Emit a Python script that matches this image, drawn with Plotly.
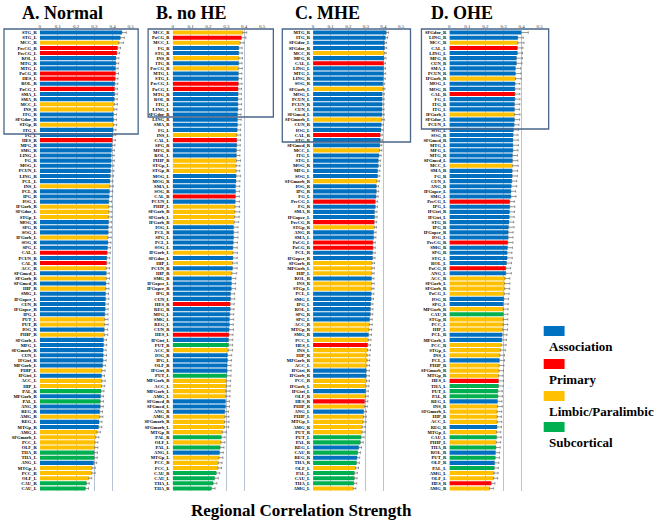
import plotly.graph_objects as go

W, H = 662, 522
SERIF = "Liberation Serif"
COLORS = {"A": "#0070C0", "P": "#FF0000", "L": "#FFC000", "S": "#00B050"}

# ---------------- Panel A. Normal ----------------
a_labels = ["STG_R", "STG_L", "MCC_R", "PreCG_R", "PreCG_L", "ROL_L", "MTG_R", "MTG_L", "PoCG_R", "HES_L",
            "ROL_R", "PoCG_L", "SMA_L", "SMA_R", "MCC_L", "INS_R", "ITG_R", "SFGdor_R", "STGp_R", "ITG_L",
            "FG_L", "HES_R", "MFG_R", "SMG_R", "LING_L", "FG_R", "MOG_L", "PCUN_L", "LING_R", "PCL_L",
            "INS_L", "PCL_R", "IPG_R", "IOG_L", "IFGorb_R", "SFGdor_L", "STGp_L", "MOG_R", "SPG_R", "SOG_L",
            "IFGorb_L", "SOG_R", "SPG_L", "CAL_L", "PCUN_R", "CAL_R", "ACC_R", "SFGmed_L", "SFGorb_R", "SFGmed_R",
            "HIP_R", "SMG_L", "IFGoper_L", "CUN_R", "IFGoper_R", "IPG_L", "PUT_L", "PUT_R", "IOG_R", "PHIP_R",
            "SFGorb_L", "MFG_L", "SFGmorb_R", "CUN_L", "IFGtri_R", "MFGorb_L", "PHIP_L", "IFGtri_L", "ACC_L", "HIP_L",
            "PAL_R", "MFGorb_R", "PAL_L", "ANG_R", "REG_R", "AMG_R", "REG_L", "MTGp_R", "AMG_L", "SFGmorb_L",
            "PCC_L", "OLF_R", "THA_R", "THA_L", "ANG_L", "MTGp_L", "PCC_R", "OLF_L", "CAU_R", "CAU_L"]
a_values = [0.452, 0.443, 0.435, 0.428, 0.424, 0.419, 0.419, 0.417, 0.417, 0.415,
            0.413, 0.412, 0.412, 0.410, 0.410, 0.408, 0.406, 0.406, 0.406, 0.404,
            0.402, 0.399, 0.397, 0.395, 0.393, 0.393, 0.392, 0.390, 0.388, 0.386,
            0.386, 0.384, 0.382, 0.380, 0.380, 0.380, 0.379, 0.379, 0.377, 0.377,
            0.375, 0.375, 0.373, 0.371, 0.369, 0.368, 0.366, 0.366, 0.366, 0.364,
            0.364, 0.362, 0.362, 0.360, 0.360, 0.358, 0.357, 0.357, 0.355, 0.355,
            0.351, 0.351, 0.349, 0.349, 0.348, 0.346, 0.342, 0.340, 0.342, 0.340,
            0.337, 0.335, 0.333, 0.333, 0.330, 0.330, 0.326, 0.324, 0.315, 0.308,
            0.304, 0.302, 0.299, 0.299, 0.297, 0.288, 0.286, 0.270, 0.257, 0.251]
a_err = [0.024, 0.022, 0.025, 0.016, 0.015, 0.016, 0.015, 0.014, 0.016, 0.015,
         0.016, 0.015, 0.014, 0.016, 0.017, 0.016, 0.015, 0.016, 0.017, 0.015,
         0.016, 0.017, 0.016, 0.015, 0.016, 0.017, 0.015, 0.018, 0.017, 0.016,
         0.018, 0.017, 0.016, 0.015, 0.018, 0.017, 0.018, 0.016, 0.017, 0.016,
         0.018, 0.017, 0.016, 0.017, 0.016, 0.017, 0.018, 0.016, 0.017, 0.016,
         0.017, 0.016, 0.018, 0.017, 0.016, 0.017, 0.018, 0.019, 0.018, 0.019,
         0.016, 0.017, 0.016, 0.018, 0.017, 0.016, 0.017, 0.016, 0.018, 0.017,
         0.016, 0.015, 0.017, 0.016, 0.015, 0.017, 0.016, 0.017, 0.018, 0.017,
         0.016, 0.017, 0.018, 0.017, 0.016, 0.017, 0.018, 0.016, 0.015, 0.017]
a_types = list("AALPPAAAPP" "APAALLAALA" "APAAAAAAAA" "LAAALLLAAA"
               "LAAPAPLALA" "LAAAAALLAL" "AAAAAALALL" "SASAALAALL" "LLSSALLLSS")

# ---------------- Panel B. no HE ----------------
b_labels = ["MCC_R", "PoCG_R", "MCC_L", "FG_R", "STG_R", "INS_R", "ITG_R", "PreCG_R", "MTG_L", "STG_L",
            "PreCG_L", "PoCG_L", "MTG_R", "ROL_R", "ITG_L", "LING_L", "SFGdor_R", "LING_R", "SMA_R", "FG_L",
            "INS_L", "CAL_L", "SPG_R", "MFG_R", "ROL_L", "PHIP_R", "STGp_L", "STGp_R", "MOG_L", "MOG_R",
            "SMA_L", "SOG_R", "CAL_R", "PCUN_L", "PHIP_L", "SFGorb_R", "SFGorb_L", "IFGorb_R", "IOG_L", "PCL_R",
            "SPG_L", "PCL_L", "SOG_L", "IFGorb_L", "SFGdor_L", "HIP_L", "PCUN_R", "HIP_R", "SMG_R", "IFGoper_L",
            "IFGoper_R", "IPG_R", "CUN_L", "HES_R", "REG_R", "MFG_L", "SMG_L", "REG_L", "CUN_R", "HES_L",
            "IFGtri_L", "PUT_R", "ACC_R", "IOG_R", "IPG_L", "OLF_R", "IFGtri_R", "PUT_L", "MFGorb_R", "ACC_L",
            "MFGorb_L", "AMG_L", "SFGmed_R", "SFGmed_L", "ANG_R", "AMG_R", "SFGmorb_R", "SFGmorb_L", "MTGp_R", "PAL_R",
            "OLF_L", "PAL_L", "ANG_L", "MTGp_L", "PCC_R", "PCC_L", "CAU_R", "CAU_L", "THA_L", "THA_R"]
b_values = [0.392, 0.385, 0.378, 0.370, 0.370, 0.370, 0.370, 0.368, 0.368, 0.368,
            0.368, 0.366, 0.366, 0.365, 0.365, 0.365, 0.363, 0.363, 0.363, 0.361,
            0.359, 0.359, 0.359, 0.357, 0.357, 0.357, 0.355, 0.355, 0.355, 0.354,
            0.352, 0.352, 0.352, 0.350, 0.348, 0.348, 0.346, 0.344, 0.341, 0.341,
            0.341, 0.339, 0.337, 0.337, 0.337, 0.335, 0.335, 0.331, 0.329, 0.329,
            0.328, 0.324, 0.324, 0.322, 0.322, 0.320, 0.318, 0.318, 0.316, 0.315,
            0.313, 0.313, 0.311, 0.307, 0.307, 0.305, 0.305, 0.303, 0.300, 0.300,
            0.298, 0.298, 0.296, 0.296, 0.292, 0.292, 0.290, 0.289, 0.278, 0.272,
            0.270, 0.266, 0.263, 0.259, 0.255, 0.253, 0.244, 0.235, 0.226, 0.217]
b_err = [0.022, 0.024, 0.020, 0.018, 0.019, 0.020, 0.018, 0.021, 0.019, 0.018,
         0.020, 0.019, 0.018, 0.019, 0.020, 0.018, 0.019, 0.020, 0.019, 0.018,
         0.021, 0.020, 0.019, 0.020, 0.019, 0.022, 0.021, 0.020, 0.024, 0.022,
         0.023, 0.022, 0.021, 0.024, 0.026, 0.027, 0.026, 0.025, 0.024, 0.025,
         0.024, 0.023, 0.024, 0.025, 0.024, 0.026, 0.025, 0.027, 0.024, 0.023,
         0.024, 0.022, 0.023, 0.022, 0.021, 0.022, 0.023, 0.021, 0.024, 0.022,
         0.023, 0.022, 0.024, 0.023, 0.022, 0.021, 0.022, 0.023, 0.024, 0.022,
         0.023, 0.022, 0.021, 0.022, 0.020, 0.022, 0.025, 0.024, 0.022, 0.021,
         0.022, 0.021, 0.020, 0.022, 0.021, 0.020, 0.019, 0.020, 0.021, 0.020]
b_types = list("LPLAALALAA" "PPAAAAAAAA" "LPAAALLLAA" "AAPALLLLAA"
               "AAALALALAA" "AAAPAAAAAP" "ASLAAAASLL" "LLAAALLLLS" "LSALLLSSSS")

# ---------------- Panel C. MHE ----------------
c_labels = ["MTG_R", "ITG_R", "SFGdor_L", "SFGdor_R", "MCC_R", "MFG_R", "CAL_L", "LING_L", "MTG_L", "LING_R",
            "SOG_R", "SFGorb_L", "MOG_L", "PCUN_L", "PCUN_R", "CUN_L", "SFGmed_L", "SFGmorb_L", "CUN_R", "IOG_L",
            "CAL_R", "STG_R", "SFGmed_R", "MCC_L", "ITG_L", "STG_L", "MOG_R", "MFG_L", "SOG_L", "SFGmorb_R",
            "IOG_R", "IPG_R", "FG_L", "PreCG_L", "FG_R", "SMA_R", "IFGoper_L", "PreCG_R", "STGp_R", "ANG_R",
            "SMA_L", "PoCG_L", "PoCG_R", "PCL_R", "IFGoper_R", "SFGorb_R", "MFGorb_L", "HIP_L", "ROL_R", "INS_R",
            "STGp_L", "PCL_L", "SMG_L", "IPG_L", "ROL_L", "SPG_R", "SPG_L", "ACC_R", "MTGp_R", "SMG_R",
            "PCC_L", "HES_L", "INS_L", "HIP_R", "MFGorb_R", "ACC_L", "IFGtri_R", "IFGorb_R", "PCC_R", "IFGorb_L",
            "IFGtri_L", "OLF_R", "HES_R", "PHIP_R", "ANG_L", "PHIP_L", "MTGp_L", "AMG_R", "PUT_R", "PUT_L",
            "PAL_R", "REG_L", "CAU_R", "REG_R", "THA_R", "OLF_L", "PAL_L", "CAU_L", "THA_L", "AMG_L"]
c_values = [0.416, 0.411, 0.407, 0.407, 0.405, 0.403, 0.401, 0.401, 0.401, 0.399,
            0.397, 0.397, 0.393, 0.393, 0.393, 0.392, 0.392, 0.392, 0.388, 0.386,
            0.382, 0.382, 0.380, 0.378, 0.375, 0.371, 0.371, 0.367, 0.367, 0.363,
            0.360, 0.360, 0.358, 0.354, 0.354, 0.350, 0.350, 0.348, 0.348, 0.345,
            0.345, 0.341, 0.341, 0.339, 0.339, 0.335, 0.335, 0.335, 0.333, 0.333,
            0.333, 0.331, 0.330, 0.328, 0.326, 0.326, 0.322, 0.320, 0.318, 0.316,
            0.314, 0.311, 0.309, 0.307, 0.307, 0.305, 0.303, 0.303, 0.303, 0.301,
            0.299, 0.297, 0.294, 0.292, 0.288, 0.286, 0.284, 0.279, 0.279, 0.273,
            0.269, 0.260, 0.254, 0.250, 0.247, 0.241, 0.235, 0.235, 0.232, 0.228]
c_err = [0.013, 0.012, 0.011, 0.012, 0.010, 0.011, 0.010, 0.011, 0.012, 0.011,
         0.010, 0.011, 0.012, 0.011, 0.010, 0.011, 0.012, 0.013, 0.011, 0.012,
         0.011, 0.012, 0.011, 0.013, 0.012, 0.011, 0.012, 0.013, 0.012, 0.013,
         0.012, 0.013, 0.012, 0.013, 0.012, 0.013, 0.014, 0.013, 0.012, 0.013,
         0.012, 0.013, 0.012, 0.014, 0.013, 0.014, 0.013, 0.012, 0.013, 0.014,
         0.013, 0.014, 0.013, 0.012, 0.014, 0.013, 0.014, 0.016, 0.015, 0.016,
         0.015, 0.016, 0.017, 0.016, 0.015, 0.016, 0.017, 0.016, 0.017, 0.016,
         0.015, 0.016, 0.017, 0.016, 0.015, 0.016, 0.017, 0.018, 0.016, 0.017,
         0.016, 0.015, 0.016, 0.015, 0.016, 0.017, 0.016, 0.015, 0.016, 0.015]
c_types = list("AAAALAPAAA" "ALAAAAALAA" "PAALAAAAAL" "AAAPAAAPLA"
               "APPAALLLAL" "LAAAAAALLA" "LPLLLLAALL" "ALPLALLLLS" "SASASLSSSL")

# ---------------- Panel D. OHE ----------------
d_labels = ["SFGdor_R", "LING_R", "MCC_R", "CAL_L", "LING_L", "MFG_R", "CUN_R", "SMA_L", "PCUN_R", "IFGorb_R",
            "MOG_L", "MOG_R", "CAL_R", "FG_L", "ITG_R", "ITG_L", "IFGorb_L", "SFGdor_L", "PCUN_L", "SOG_L",
            "SOG_R", "SFGmed_R", "MTG_L", "MFG_L", "MTG_R", "SFGmed_L", "MCC_L", "SMA_R", "FG_R", "CUN_L",
            "ANG_R", "IFGoper_L", "SMG_L", "PreCG_L", "IPG_L", "IFGtri_R", "IFGtri_L", "STG_R", "IPG_R", "IFGoper_R",
            "IOG_L", "PreCG_R", "SMG_R", "SPG_R", "STG_L", "ROL_L", "PoCG_R", "ANG_L", "ACC_R", "SFGorb_L",
            "SFGorb_R", "PoCG_L", "IOG_R", "SPG_L", "MFGorb_R", "CAU_R", "STGp_R", "PCC_L", "HIP_L", "PCL_R",
            "MFGorb_L", "PCC_R", "STGp_L", "INS_L", "PCL_L", "PHIP_R", "SFGmorb_R", "MTGp_R", "HES_L", "THA_L",
            "PUT_L", "PAL_R", "REG_L", "INS_R", "SFGmorb_L", "HIP_R", "ACC_L", "REG_R", "MTGp_L", "CAU_L",
            "PHIP_L", "THA_R", "ROL_R", "PUT_R", "OLF_R", "PAL_L", "AMG_L", "OLF_L", "HES_R", "AMG_R"]
d_values = [0.397, 0.379, 0.379, 0.377, 0.377, 0.372, 0.372, 0.366, 0.366, 0.366,
            0.364, 0.363, 0.363, 0.363, 0.361, 0.361, 0.361, 0.361, 0.359, 0.355,
            0.353, 0.352, 0.352, 0.352, 0.350, 0.350, 0.350, 0.348, 0.348, 0.346,
            0.343, 0.341, 0.341, 0.335, 0.335, 0.333, 0.332, 0.330, 0.328, 0.326,
            0.326, 0.324, 0.322, 0.320, 0.320, 0.317, 0.313, 0.313, 0.308, 0.306,
            0.306, 0.304, 0.302, 0.298, 0.298, 0.298, 0.298, 0.297, 0.295, 0.293,
            0.291, 0.287, 0.284, 0.280, 0.278, 0.276, 0.275, 0.273, 0.273, 0.273,
            0.269, 0.269, 0.267, 0.267, 0.265, 0.265, 0.265, 0.264, 0.262, 0.262,
            0.260, 0.258, 0.256, 0.254, 0.251, 0.249, 0.247, 0.245, 0.232, 0.223]
d_err = [0.040, 0.030, 0.034, 0.030, 0.028, 0.032, 0.030, 0.028, 0.030, 0.031,
         0.026, 0.028, 0.027, 0.028, 0.029, 0.027, 0.030, 0.028, 0.026, 0.028,
         0.027, 0.029, 0.030, 0.028, 0.027, 0.029, 0.031, 0.030, 0.028, 0.027,
         0.030, 0.026, 0.028, 0.025, 0.027, 0.028, 0.027, 0.026, 0.030, 0.027,
         0.026, 0.028, 0.027, 0.026, 0.028, 0.027, 0.026, 0.030, 0.027, 0.029,
         0.028, 0.027, 0.026, 0.028, 0.027, 0.026, 0.025, 0.026, 0.027, 0.026,
         0.025, 0.027, 0.026, 0.025, 0.027, 0.026, 0.025, 0.024, 0.026, 0.025,
         0.024, 0.025, 0.024, 0.026, 0.025, 0.024, 0.025, 0.024, 0.023, 0.025,
         0.024, 0.023, 0.022, 0.024, 0.023, 0.022, 0.023, 0.022, 0.020, 0.021]
d_types = list("AALPAAAAAL" "AAPAAALAAA" "AAAAAALAAA" "AAAPAAAAAA"
               "APAAAAPALL" "LLAALSLLLA" "ALLLALLLPS" "SSALLLLALS" "LSASASLLPL")

# ---------------- layout geometry (pixels) ----------------
panels = [
    dict(title="A. Normal", labels=a_labels, values=a_values, err=a_err, types=a_types,
         x0=39.0, scale=183.0, tx=62, box=(3, 29, 138, 134)),
    dict(title="B. no HE", labels=b_labels, values=b_values, err=b_err, types=b_types,
         x0=172.7, scale=180.0, tx=192, box=(148, 29, 274, 117)),
    dict(title="C. MHE", labels=c_labels, values=c_values, err=c_err, types=c_types,
         x0=314.0, scale=177.0, tx=328, box=(283, 29, 412, 142)),
    dict(title="D. OHE", labels=d_labels, values=d_values, err=d_err, types=d_types,
         x0=451.1, scale=181.7, tx=464, box=(423, 29, 551, 129)),
]
XMAX = 0.505
Y_TOP, Y_BOT = 30.0, 491.0


def px(x):
    return x / W


def py(y):
    return 1 - y / H


fig = go.Figure()
shapes = []
annotations = []
ticks = [0, 0.1, 0.2, 0.3, 0.4, 0.5]
tick_text = ["0", "0.1", "0.2", "0.3", "0.4", "0.5"]

for i, p in enumerate(panels):
    n = i + 1
    xa = "x" if n == 1 else f"x{n}"
    ya = "y" if n == 1 else f"y{n}"
    fig.add_trace(go.Bar(
        y=p["labels"], x=p["values"], orientation="h",
        marker=dict(color=[COLORS[t] for t in p["types"]], line=dict(width=0)),
        error_x=dict(type="data", symmetric=False, array=p["err"],
                     arrayminus=[0] * len(p["err"]), color="#6b6b6b",
                     thickness=0.7, width=1.2),
        xaxis=xa, yaxis=ya, showlegend=False, hoverinfo="x+y",
    ))
    xkey = "xaxis" if n == 1 else f"xaxis{n}"
    ykey = "yaxis" if n == 1 else f"yaxis{n}"
    fig.update_layout(**{
        xkey: dict(domain=[px(p["x0"]), px(p["x0"] + XMAX * p["scale"])],
                   range=[0, XMAX], side="top", anchor=ya,
                   tickmode="array", tickvals=ticks, ticktext=tick_text,
                   tickfont=dict(family=SERIF, size=5, color="#333333"),
                   showgrid=True, gridcolor="#b9c3d3", gridwidth=1,
                   zeroline=False, showline=False, ticks="", fixedrange=True),
        ykey: dict(domain=[py(Y_BOT), py(Y_TOP)], anchor=xa, type="category",
                   autorange="reversed", tickmode="array",
                   tickvals=p["labels"], ticktext=p["labels"],
                   tickfont=dict(family=SERIF, size=4.6, color="black", weight="bold"),
                   showgrid=False, zeroline=False, showline=False, ticks="",
                   ticklabelstandoff=2, fixedrange=True),
    })
    annotations.append(dict(text=f"<b>{p['title']}</b>", x=px(p["tx"]), y=py(13),
                            xref="paper", yref="paper", xanchor="center", yanchor="middle",
                            showarrow=False, font=dict(family=SERIF, size=18, color="black")))
    bx0, by0, bx1, by1 = p["box"]
    shapes.append(dict(type="rect", xref="paper", yref="paper",
                       x0=px(bx0), x1=px(bx1), y0=py(by1), y1=py(by0),
                       line=dict(color="#4a6688", width=1.3), fillcolor="rgba(0,0,0,0)"))

# legend
legend_items = [("Association", "A", 326), ("Primary", "P", 359),
                ("Limbic/Paralimbic", "L", 391), ("Subcortical", "S", 422)]
for name, code, top in legend_items:
    shapes.append(dict(type="rect", xref="paper", yref="paper",
                       x0=px(546), x1=px(567), y0=py(top + 10), y1=py(top),
                       line=dict(width=0), fillcolor=COLORS[code]))
    annotations.append(dict(text=f"<b>{name}</b>", x=px(549), y=py(top + 20),
                            xref="paper", yref="paper", xanchor="left", yanchor="middle",
                            showarrow=False, font=dict(family=SERIF, size=13, color="black")))

annotations.append(dict(text="<b>Regional Correlation Strength</b>", x=px(302), y=py(510),
                        xref="paper", yref="paper", xanchor="center", yanchor="middle",
                        showarrow=False, font=dict(family=SERIF, size=17, color="black")))

fig.update_layout(width=W, height=H, autosize=False,
                  margin=dict(l=0, r=0, t=0, b=0),
                  paper_bgcolor="white", plot_bgcolor="white",
                  bargap=0.2, shapes=shapes, annotations=annotations,
                  font=dict(family=SERIF))

fig.write_html("out.html", config={"displayModeBar": False},
               post_script="document.body.style.margin='0';document.body.style.overflow='hidden';")
